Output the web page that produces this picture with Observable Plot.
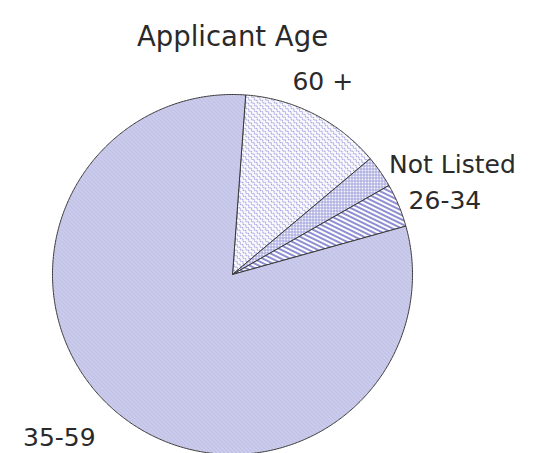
<!DOCTYPE html>
<html>
<head>
<meta charset="utf-8">
<script src="https://cdn.jsdelivr.net/npm/d3@7"></script>
<script src="https://cdn.jsdelivr.net/npm/@observablehq/plot@0.6"></script>
<style>
  html, body { margin: 0; padding: 0; background: #ffffff; }
  #chart svg { display: block; }
</style>
</head>
<body>
<svg width="0" height="0" style="position:absolute">
  <defs>
    <pattern id="p3559" width="4" height="4" patternUnits="userSpaceOnUse">
      <rect width="4" height="4" fill="#f0f0fa"/>
      <rect x="0" y="0" width="1" height="1" fill="#9494d4"/>
      <rect x="2" y="0" width="1" height="1" fill="#a4a4dc"/>
      <rect x="1" y="1" width="1" height="1" fill="#9494d4"/>
      <rect x="3" y="1" width="1" height="1" fill="#acacdf"/>
      <rect x="0" y="2" width="1" height="1" fill="#a4a4dc"/>
      <rect x="2" y="2" width="1" height="1" fill="#9494d4"/>
      <rect x="3" y="3" width="1" height="1" fill="#9494d4"/>
      <rect x="1" y="3" width="1" height="1" fill="#b0b0e2"/>
    </pattern>
    <pattern id="p60" width="4" height="4" patternUnits="userSpaceOnUse" patternTransform="rotate(45)">
      <rect width="4" height="4" fill="#f9f9fd"/>
      <path d="M0,1 L2,3 L4,1" fill="none" stroke="#a6a6de" stroke-width="1"/>
    </pattern>
    <pattern id="pNL" width="3" height="3" patternUnits="userSpaceOnUse">
      <rect width="3" height="3" fill="#f6f6fc"/>
      <rect x="0" y="0" width="3" height="1" fill="#a2a2dc"/>
      <rect x="0" y="0" width="1" height="3" fill="#a2a2dc"/>
    </pattern>
    <pattern id="p2634" width="4" height="4" patternUnits="userSpaceOnUse" patternTransform="rotate(26)">
      <rect width="4" height="4" fill="#ffffff"/>
      <rect x="0" y="0" width="4" height="2" fill="#8e8ed2"/>
    </pattern>
  </defs>
</svg>
<div id="chart"></div>
<script>
// ---- Data ----
const ageGroups = ["60 +", "Not Listed", "26-34", "35-59"];
const shares = [12.7, 2.9, 3.9, 80.5]; // percent of applicants
const titleText = "Applicant Age";

// ---- Styling / layout (not data) ----
const patterns = ["url(#p60)", "url(#pNL)", "url(#p2634)", "url(#p3559)"];
const startAngleDeg = 4.2;              // first slice begins just right of 12 o'clock
const labelRadius = [1.2, 1.06, 1.06, 1.2];
const labelAnchor = ["middle", "start", "start", "end"];
const labelDx = [-8, 0, 0, 0];
const labelDy = [0, 0, 0, -4];

const W = 536, H = 453;
const cx = 232, cy = 274, R = 180;

// Build slice polygons in unit-circle data space
const total = d3.sum(shares);
let acc = startAngleDeg * Math.PI / 180;
const slices = ageGroups.map((name, i) => {
  const a0 = acc;
  const a1 = acc + shares[i] / total * 2 * Math.PI;
  acc = a1;
  const pts = [{x: 0, y: 0}];
  const n = Math.max(2, Math.ceil((a1 - a0) / (Math.PI / 360)));
  for (let k = 0; k <= n; k++) {
    const a = a0 + (a1 - a0) * k / n;
    pts.push({x: Math.sin(a), y: Math.cos(a)});
  }
  pts.push({x: 0, y: 0});
  const mid = (a0 + a1) / 2;
  return {name, i, pts, mid};
});

const labels = slices.map(s => ({
  name: s.name,
  x: Math.sin(s.mid) * labelRadius[s.i],
  y: Math.cos(s.mid) * labelRadius[s.i],
  anchor: labelAnchor[s.i],
  dx: labelDx[s.i],
  dy: labelDy[s.i]
}));

const fontFamily = "'DejaVu Sans', Verdana, sans-serif";

const marks = [
  ...slices.map(s => Plot.line(s.pts, {
    x: "x", y: "y",
    fill: patterns[s.i],
    stroke: "#3a3a3a",
    strokeWidth: 1,
    strokeLinejoin: "round"
  })),
  ...labels.map(l => Plot.text([l], {
    x: "x", y: "y", text: "name",
    textAnchor: l.anchor, dx: l.dx, dy: l.dy,
    fontSize: 25, fill: "#2a2a2a",
    fontFamily
  })),
  Plot.text([titleText], {
    x: () => 0,
    frameAnchor: "top",
    dy: 26,
    text: d => d,
    fontSize: 27.5,
    fill: "#2a2a2a",
    fontFamily
  })
];

const chart = Plot.plot({
  width: W,
  height: H,
  margin: 0,
  style: {background: "#ffffff", overflow: "hidden"},
  x: {domain: [-1, 1], range: [cx - R, cx + R], axis: null},
  y: {domain: [-1, 1], range: [cy + R, cy - R], axis: null},
  marks
});
document.getElementById("chart").appendChild(chart);
</script>
</body>
</html>
